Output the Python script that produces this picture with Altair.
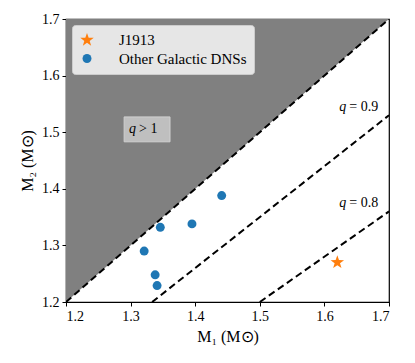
import altair as alt
import pandas as pd

# ---- data ----
names = ["J1913", "Other Galactic DNSs", "Other Galactic DNSs", "Other Galactic DNSs",
         "Other Galactic DNSs", "Other Galactic DNSs", "Other Galactic DNSs"]
m1 = [1.62, 1.441, 1.346, 1.395, 1.321, 1.338, 1.341]
m2 = [1.27, 1.388, 1.332, 1.338, 1.290, 1.248, 1.229]

shade_x = [1.2, 1.7]
shade_y = [1.2, 1.7]
shade_top = [1.7, 1.7]

line_q = ["1.0", "1.0", "0.9", "0.9", "0.8", "0.8"]
line_x = [1.2, 1.7, 1.3333, 1.7, 1.5, 1.7]
line_y = [1.2, 1.7, 1.2, 1.53, 1.2, 1.36]

lab_q = ["0.9", "0.8"]
lab_x = [1.634, 1.634]
lab_y = [1.545, 1.375]

box_x = [1.290]
box_x2 = [1.361]
box_y = [1.483]
box_y2 = [1.527]
qgt_x = [1.3085]
qgt_y = [1.505]

FONT = "Liberation Serif"

pts = pd.DataFrame({"name": names, "m1": m1, "m2": m2})
shade = pd.DataFrame({"x": shade_x, "y": shade_y, "y2": shade_top})
lines = pd.DataFrame({"q": line_q, "x": line_x, "y": line_y})
labs = pd.DataFrame({"q": lab_q, "x": lab_x, "y": lab_y, "rest": ["= " + v for v in lab_q]})
box = pd.DataFrame({"x": box_x, "x2": box_x2, "y": box_y, "y2": box_y2})
qgt = pd.DataFrame({"x": qgt_x, "y": qgt_y})

xs = alt.Scale(domain=[1.2, 1.7], nice=False, zero=False)
ys = alt.Scale(domain=[1.2, 1.7], nice=False, zero=False)
xax = alt.Axis(values=[1.2, 1.3, 1.4, 1.5, 1.6, 1.7], format=".1f", title="M₁ (M⊙)",
               grid=False, tickSize=4, labelFontSize=14, titleFontSize=16,
               labelFont=FONT, titleFont=FONT, titleFontWeight="normal",
               domainColor="black", tickColor="black", labelColor="black", titleColor="black",
               labelPadding=3, titlePadding=5)
yax = alt.Axis(values=[1.2, 1.3, 1.4, 1.5, 1.6, 1.7], format=".1f", title="M₂ (M⊙)",
               grid=False, tickSize=4, labelFontSize=14, titleFontSize=16,
               labelFont=FONT, titleFont=FONT, titleFontWeight="normal",
               domainColor="black", tickColor="black", labelColor="black", titleColor="black",
               labelPadding=3, titlePadding=6)

area = alt.Chart(shade).mark_area(color="#808080", opacity=1).encode(
    x=alt.X("x:Q", scale=xs, axis=xax),
    y=alt.Y("y:Q", scale=ys, axis=yax),
    y2="y2:Q",
)

dashed = alt.Chart(lines).mark_line(color="black", strokeDash=[7, 4], strokeWidth=2, clip=True).encode(
    x=alt.X("x:Q", scale=xs), y=alt.Y("y:Q", scale=ys), detail="q:N"
)

lab_q_mark = alt.Chart(labs).mark_text(font=FONT, fontStyle="italic", fontSize=14, align="right",
                                       baseline="middle", color="black").encode(
    x=alt.X("x:Q", scale=xs), y=alt.Y("y:Q", scale=ys), text=alt.value("q"))
lab_rest = alt.Chart(labs).mark_text(font=FONT, fontSize=14, align="left", dx=3,
                                     baseline="middle", color="black").encode(
    x=alt.X("x:Q", scale=xs), y=alt.Y("y:Q", scale=ys), text="rest:N")

rect = alt.Chart(box).mark_rect(fill="#bfbfbf", stroke="#d0d0d0", strokeWidth=1).encode(
    x=alt.X("x:Q", scale=xs), x2="x2:Q", y=alt.Y("y:Q", scale=ys), y2="y2:Q")
qgt_q = alt.Chart(qgt).mark_text(font=FONT, fontStyle="italic", fontSize=14, align="right",
                                 baseline="middle", color="black").encode(
    x=alt.X("x:Q", scale=xs), y=alt.Y("y:Q", scale=ys), text=alt.value("q"))
qgt_rest = alt.Chart(qgt).mark_text(font=FONT, fontSize=14, align="left", dx=3,
                                    baseline="middle", color="black").encode(
    x=alt.X("x:Q", scale=xs), y=alt.Y("y:Q", scale=ys), text=alt.value("> 1"))

dom = ["J1913", "Other Galactic DNSs"]
leg = alt.Legend(title=None, orient="top-left", offset=6, padding=7,
                 fillColor="#e6e6e6", strokeColor="#cccccc", cornerRadius=3,
                 labelFont=FONT, labelFontSize=15, labelColor="black",
                 rowPadding=2, labelOffset=24, symbolOpacity=1)
points = alt.Chart(pts).mark_point(filled=True, opacity=1).encode(
    x=alt.X("m1:Q", scale=xs),
    y=alt.Y("m2:Q", scale=ys),
    color=alt.Color("name:N", scale=alt.Scale(domain=dom, range=["#ff7f0e", "#1f77b4"]), legend=leg),
    shape=alt.Shape("name:N", scale=alt.Scale(domain=dom, range=["M0,-1L0.235,-0.324L0.951,-0.309L0.38,0.124L0.588,0.809L0,0.4L-0.588,0.809L-0.38,0.124L-0.951,-0.309L-0.235,-0.324Z", "circle"]),
                    legend=leg),
    size=alt.Size("name:N", scale=alt.Scale(domain=dom, range=[200, 80]), legend=leg),
)

chart = alt.layer(area, dashed, rect, qgt_q, qgt_rest, lab_q_mark, lab_rest, points).properties(
    width=323, height=283,
    padding={"left": 58, "top": 11, "right": 18, "bottom": 52},
    autosize=alt.AutoSizeParams(type="none"),
).configure(font=FONT).configure_legend(labelFont=FONT).configure_view(stroke="black", strokeWidth=1.2)

chart.save("out.html", embed_options={"renderer": "svg", "actions": False})
